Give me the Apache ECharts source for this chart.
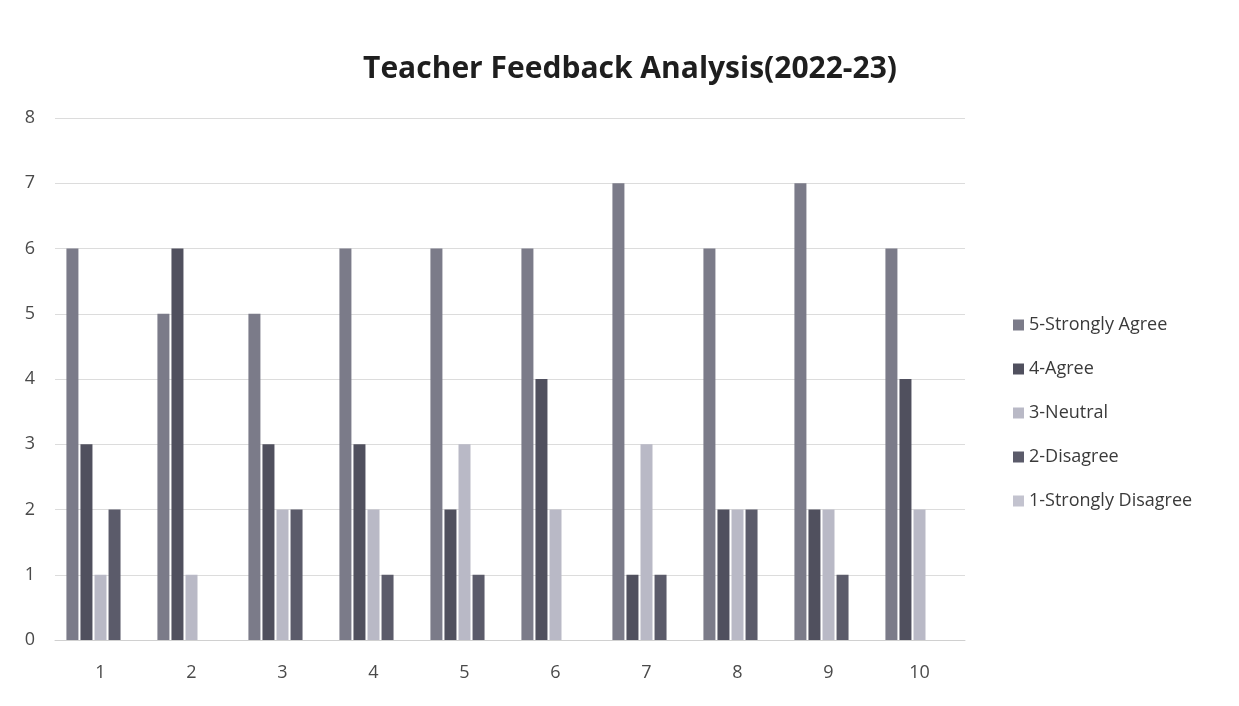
<!DOCTYPE html>
<html>
<head>
<meta charset="utf-8">
<script src="https://cdn.jsdelivr.net/npm/echarts@6/dist/echarts.min.js"></script>
<style>
html,body{margin:0;padding:0;background:#fff;}
#chart{width:1239px;height:706px;}
</style>
</head>
<body>
<div id="chart"></div>
<script>
const categories = ['1','2','3','4','5','6','7','8','9','10'];
const seriesNames = ['5-Strongly Agree','4-Agree','3-Neutral','2-Disagree','1-Strongly Disagree'];
const stronglyAgree    = [6,5,5,6,6,6,7,6,7,6];
const agree            = [3,6,3,3,2,4,1,2,2,4];
const neutral          = [1,1,2,2,3,2,3,2,2,2];
const disagree         = [2,0,2,1,1,0,1,2,1,0];
const stronglyDisagree = [0,0,0,0,0,0,0,0,0,0];
const yTicks = [0,1,2,3,4,5,6,7,8];

const colors = ['#7b7b89','#50505e','#b9b9c6','#5b5b6a','#c3c3cf'];
const values = [stronglyAgree, agree, neutral, disagree, stronglyDisagree];

const chart = echarts.init(document.getElementById('chart'));
chart.setOption({
  backgroundColor: '#ffffff',
  animation: false,
  title: {
    text: 'Teacher Feedback Analysis(2022-23)',
    left: 625, top: 49, textAlign: 'center',
    textStyle: {fontFamily: 'Open Sans', fontWeight: 'bold', fontSize: 30, color: '#1e1e1e'}
  },
  legend: {
    orient: 'vertical', left: 1008, top: 311, itemGap: 26,
    itemWidth: 11, itemHeight: 11, icon: 'rect',
    textStyle: {fontFamily: 'Open Sans', fontSize: 18, color: '#3a3a3a'},
    data: seriesNames
  },
  grid: {left: 55, right: 274, top: 118, bottom: 66},
  xAxis: {
    type: 'category', data: categories,
    axisLine: {lineStyle: {color: '#d0d0d0'}},
    axisTick: {show: false},
    axisLabel: {fontFamily: 'Open Sans', fontSize: 18, color: '#4a4a4a', margin: 24}
  },
  yAxis: {
    type: 'value', min: yTicks[0], max: yTicks[yTicks.length-1], interval: 1,
    axisLine: {show: false}, axisTick: {show: false},
    axisLabel: {fontFamily: 'Open Sans', fontSize: 18, color: '#4a4a4a', margin: 20},
    splitLine: {lineStyle: {color: '#dcdcdc'}}
  },
  series: seriesNames.map((n, i) => ({
    name: n, type: 'bar', data: values[i],
    barWidth: 12, barGap: '17%',
    itemStyle: {color: colors[i]}
  }))
});
</script>
</body>
</html>
